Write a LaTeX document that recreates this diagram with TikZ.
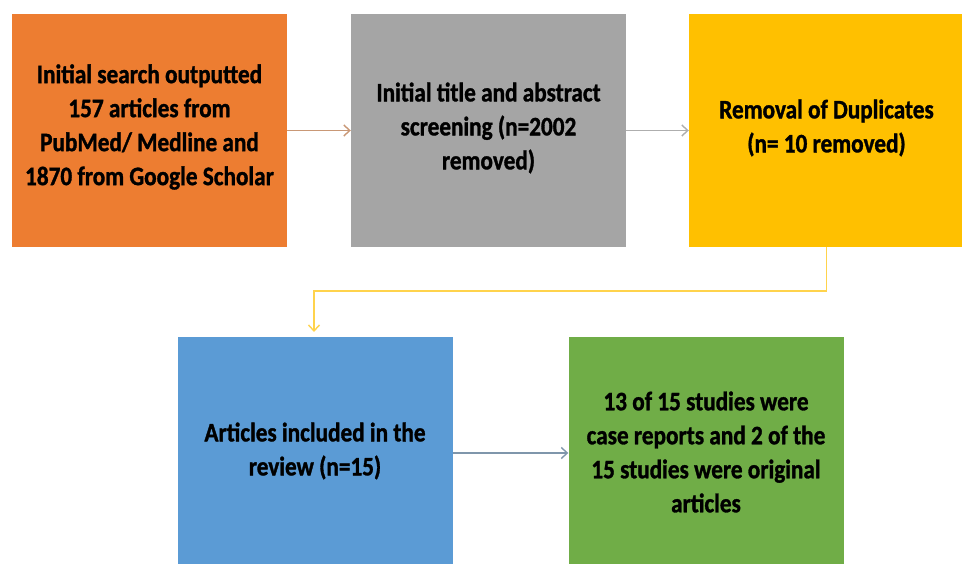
\documentclass[tikz,border=0pt]{standalone}
\usepackage{fontspec}
\setmainfont{Carlito}[FakeStretch=0.87, BoldFeatures={FakeBold=1.2}]
\usetikzlibrary{arrows.meta}
\definecolor{cOrange}{HTML}{ED7D31}
\definecolor{cGray}{HTML}{A5A5A5}
\definecolor{cYellow}{HTML}{FFC000}
\definecolor{cBlue}{HTML}{5B9BD5}
\definecolor{cGreen}{HTML}{70AD47}
\tikzset{
  box/.style={rectangle, minimum width=275pt, inner sep=0pt, align=center,
    font=\fontsize{26.7pt}{34pt}\selectfont\bfseries, text=black},
  topbox/.style={box, minimum height=233pt},
  botbox/.style={box, minimum height=232pt},
  conn/.style={line width=1.4pt, -{Straight Barb[length=6pt,width=11pt,line width=1.4pt]}},
}
\begin{document}
\begin{tikzpicture}[x=1pt,y=-1pt]
\useasboundingbox (0,0) rectangle (962,564);
\clip (0,0) rectangle (962,564);
\node[topbox, fill=cOrange] (a) at (149.5,130.5) {};
\node[topbox, fill=cGray] (b) at (488.5,130.5) {};
\node[topbox, fill=cYellow] (c) at (826.5,130.5) {};
\node[botbox, fill=cBlue] (d) at (315,453) {};
\node[botbox, fill=cGreen] (e) at (706,453) {};
\node[box] (ta) at (149.5,127) {Initial search outputted\\157 articles from\\PubMed/ Medline and\\1870 from Google Scholar};
\node[box] (tb) at (488.5,128) {Initial title and abstract\\screening (n=2002\\removed)};
\node[box] (tc) at (826.5,128) {Removal of Duplicates\\(n= 10 removed)};
\node[box] (td) at (315,451) {Articles included in the\\review (n=15)};
\node[box] (te) at (706,452) {13 of 15 studies were\\case reports and 2 of the\\15 studies were original\\articles};
\coordinate (k1) at (826.5,291);
\coordinate (k2) at (314,291);
\coordinate (k3) at (314,332);
\draw[conn, color=cOrange!55!gray!80] (a.east) -- (b.west);
\draw[conn, color=cGray!90] (b.east) -- (c.west);
\draw[conn, color=cYellow!70] (c.south) -- (k1) -- (k2) -- (k3);
\draw[conn, color=cBlue!40!gray!90] (d.east) -- (e.west);
\end{tikzpicture}
\end{document}
